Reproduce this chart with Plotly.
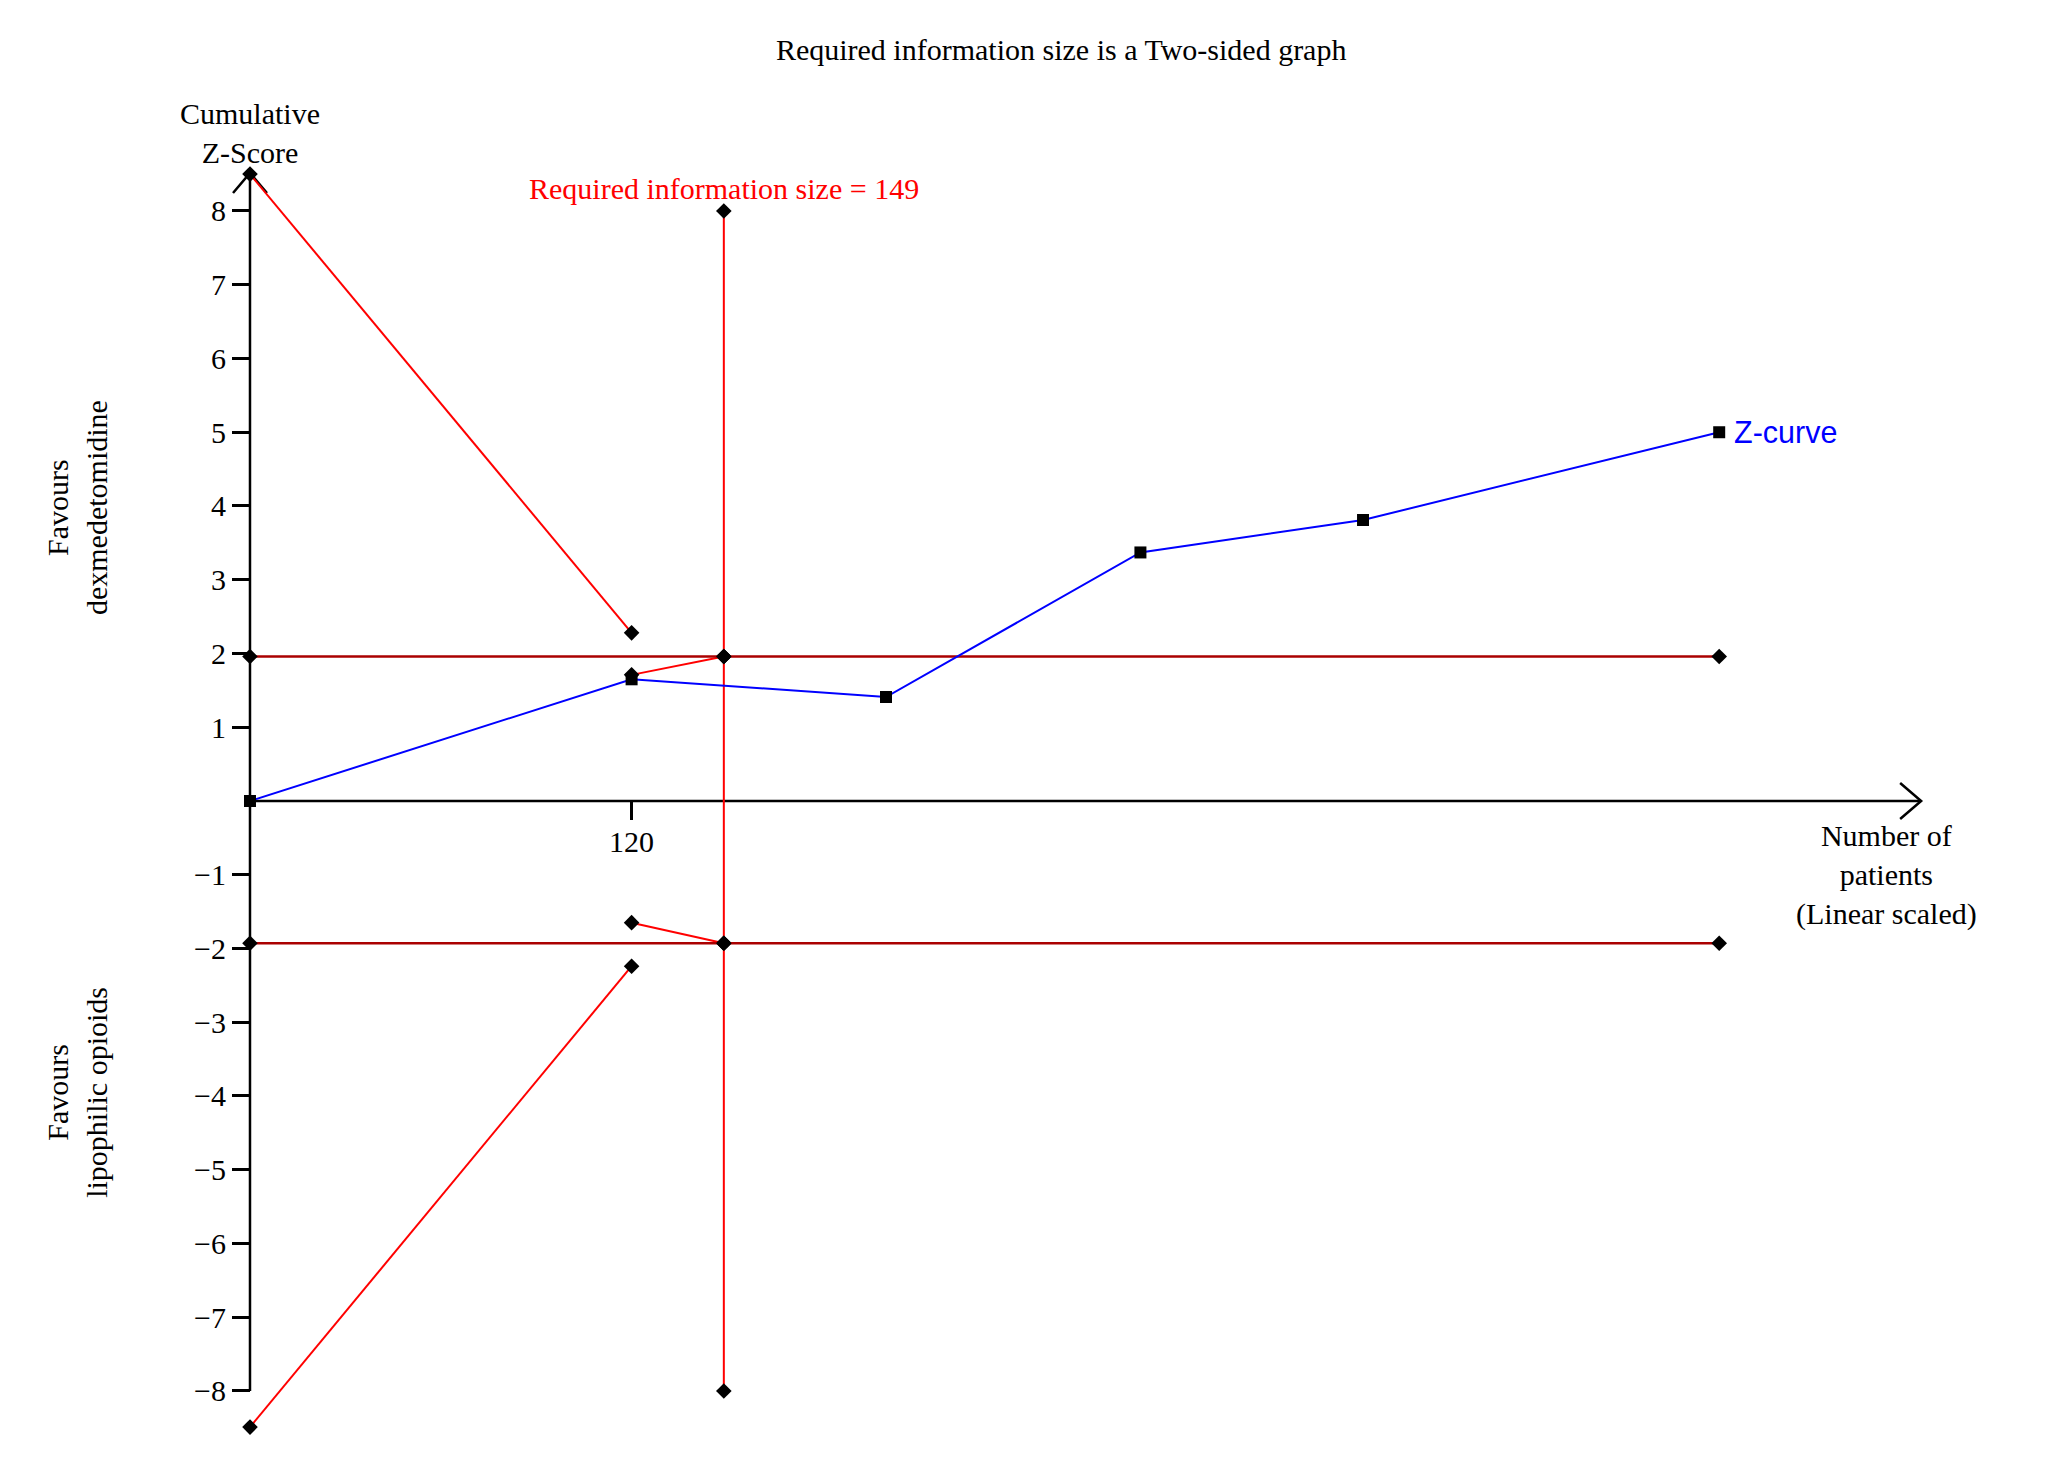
import plotly.graph_objects as go

# cumulative number of patients and Z-scores
patients = [0, 120, 200, 280, 350, 462]
z_curve = [0, 1.65, 1.41, 3.37, 3.81, 5.0]

# alpha-spending monitoring boundaries
upper_outer_x = [0, 120]
upper_outer_y = [8.5, 2.28]
upper_inner_x = [120, 149]
upper_inner_y = [1.71, 1.96]
lower_inner_x = [120, 149]
lower_inner_y = [-1.65, -1.93]
lower_outer_x = [0, 120]
lower_outer_y = [-8.49, -2.24]

# conventional boundaries
conv_x = [0, 149, 462]
conv_upper = [1.96, 1.96, 1.96]
conv_lower = [-1.93, -1.93, -1.93]

# required information size
ris = 149
ris_y = [8, 1.96, -1.93, -8]

ytick_vals = [-8, -7, -6, -5, -4, -3, -2, -1, 1, 2, 3, 4, 5, 6, 7, 8]
xtick_vals = [120]

SERIF = "Liberation Serif"
RED = "#ff0000"
DARKRED = "#aa0000"
FS = 30

fig = go.Figure()

diamond = dict(symbol="diamond", size=12, color="black")

for xs, ys in [(upper_outer_x, upper_outer_y), (upper_inner_x, upper_inner_y),
               (lower_inner_x, lower_inner_y), (lower_outer_x, lower_outer_y)]:
    fig.add_trace(go.Scatter(x=xs, y=ys, mode="lines+markers",
                             line=dict(color=RED, width=2), marker=diamond))

fig.add_trace(go.Scatter(x=[ris] * len(ris_y), y=ris_y, mode="lines+markers",
                         line=dict(color=RED, width=2), marker=diamond))

for ys in [conv_upper, conv_lower]:
    fig.add_trace(go.Scatter(x=conv_x, y=ys, mode="lines+markers",
                             line=dict(color=DARKRED, width=2.5), marker=diamond))

fig.add_trace(go.Scatter(x=patients, y=z_curve, mode="lines+markers",
                         line=dict(color="#0000ff", width=2),
                         marker=dict(symbol="square", size=12, color="black")))

# axes drawn by hand, with open arrow heads
ax = dict(color="black", width=2.5)
fig.add_shape(type="line", x0=0, y0=-8, x1=0, y1=8.515, line=ax, layer="below")
fig.add_shape(type="path", path="M -5.34,8.244 L 0,8.515 L 5.34,8.244", line=ax, layer="below")
fig.add_shape(type="line", x0=0, y0=0, x1=525.5, y1=0, line=ax, layer="below")
fig.add_shape(type="path", path="M 518.9,0.244 L 525.5,0 L 518.9,-0.244", line=ax, layer="below")

fig.add_annotation(x=0, y=9.06, text="Cumulative<br>Z-Score", showarrow=False,
                   font=dict(family=SERIF, size=FS, color="black"))
fig.add_annotation(x=514.6, y=-1.0, text="Number of<br>patients<br>(Linear scaled)",
                   showarrow=False, font=dict(family=SERIF, size=FS, color="black"))
fig.add_annotation(x=ris, y=8.31, text="Required information size = %d" % ris,
                   showarrow=False, font=dict(family=SERIF, size=FS, color=RED))
fig.add_annotation(x=patients[-1], y=z_curve[-1], text="Z-curve", showarrow=False,
                   xanchor="left", xshift=13,
                   font=dict(family="Liberation Sans", size=30.5, color="#0000ff"))
fig.add_annotation(x=-0.0683, y=0.70, xref="paper", yref="paper",
                   xanchor="center", yanchor="middle",
                   text="Favours<br>dexmedetomidine", textangle=-90, showarrow=False,
                   font=dict(family=SERIF, size=FS, color="black"))
fig.add_annotation(x=-0.0683, y=0.27, xref="paper", yref="paper",
                   xanchor="center", yanchor="middle",
                   text="Favours<br>lipophilic opioids", textangle=-90, showarrow=False,
                   font=dict(family=SERIF, size=FS, color="black"))

# the page body has an 8px margin, so the figure is 8px smaller each way
fig.update_layout(
    width=2061, height=1471,
    margin=dict(l=192, r=69, t=92, b=19),
    paper_bgcolor="white", plot_bgcolor="white",
    showlegend=False,
    title=dict(text="Required information size is a Two-sided graph",
               x=0.511, xanchor="center", y=1 - 41 / 1471, yanchor="middle",
               yref="container",
               font=dict(family=SERIF, size=FS, color="black")),
    font=dict(family=SERIF, size=FS, color="black"),
    xaxis=dict(range=[-15.72, 550.3], anchor="free", position=0.4846,
               tickvals=xtick_vals, ticks="outside", ticklen=18, tickwidth=2.5,
               tickcolor="black", showline=False, showgrid=False, zeroline=False,
               ticklabelstandoff=-4,
               tickfont=dict(family=SERIF, size=FS, color="black")),
    yaxis=dict(range=[-8.936, 9.505], anchor="free", position=0.02778,
               tickvals=ytick_vals, ticks="outside", ticklen=18, tickwidth=2.5,
               tickcolor="black", showline=False, showgrid=False, zeroline=False,
               tickfont=dict(family=SERIF, size=FS, color="black")),
)

fig.write_html("out.html")
